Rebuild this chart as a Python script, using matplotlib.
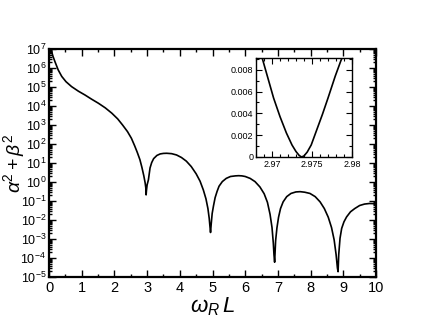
import numpy as np
import matplotlib
matplotlib.use('Agg')
import matplotlib.pyplot as plt
from matplotlib.ticker import LogLocator, MultipleLocator, NullFormatter, FixedLocator

plt.rcParams['font.family'] = ['Liberation Sans', 'DejaVu Sans']
plt.rcParams['mathtext.fontset'] = 'custom'
plt.rcParams['mathtext.rm'] = 'Liberation Sans'
plt.rcParams['mathtext.it'] = 'Liberation Sans:italic'

# main curve (omega_R L, alpha^2 + beta^2)
wL = [0.06, 0.12, 0.18, 0.28, 0.39, 0.52, 0.69, 0.9, 1.1, 1.3, 1.51, 1.72, 1.92,
      2.1, 2.25, 2.4, 2.52, 2.62, 2.7, 2.78, 2.84, 2.9, 2.94, 2.96, 2.97, 2.98,
      3.0, 3.04, 3.09, 3.14, 3.2, 3.3, 3.4, 3.5, 3.6, 3.75, 3.9, 4.05, 4.2, 4.35,
      4.5, 4.62, 4.72, 4.8, 4.86, 4.9, 4.92, 4.94, 4.96, 4.99, 5.03, 5.08, 5.14,
      5.2, 5.3, 5.42, 5.55, 5.7, 5.8, 5.9, 6.0, 6.15, 6.3, 6.45, 6.58, 6.68, 6.76,
      6.82, 6.86, 6.88, 6.9, 6.93, 6.97, 7.02, 7.08, 7.16, 7.27, 7.4, 7.55, 7.68,
      7.82, 7.98, 8.14, 8.29, 8.42, 8.54, 8.64, 8.72, 8.78, 8.82, 8.84, 8.86, 8.9,
      8.95, 9.02, 9.1, 9.22, 9.35, 9.5, 9.65, 9.8, 10.0]
amp = [1.0e7, 4.2e6, 2.2e6, 8.0e5, 3.6e5, 1.9e5, 1.05e5, 6.0e4, 3.8e4, 2.3e4,
       1.4e4, 8.0e3, 4.2e3, 2.1e3, 1.0e3, 4.5e2, 2.0e2, 8.0e1, 3.6e1, 1.5e1,
       6.0e0, 2.1e0, 9.0e-1, 5.0e-1, 2.1e-1, 3.5e-1, 7.0e-1, 1.3e0, 5.5e0,
       1.05e1, 1.7e1, 2.5e1, 3.0e1, 3.2e1, 3.25e1, 3.1e1, 2.65e1, 1.95e1, 1.25e1,
       6.5e0, 2.7e0, 1.1e0, 3.8e-1, 1.3e-1, 4.0e-2, 1.2e-2, 5.0e-3, 2.2e-3,
       6.0e-3, 2.2e-2, 5.5e-2, 1.5e-1, 3.2e-1, 6.0e-1, 1.05e0, 1.55e0, 1.95e0,
       2.1e0, 2.15e0, 2.1e0, 1.95e0, 1.55e0, 1.05e0, 5.5e-1, 2.4e-1, 8.5e-2,
       2.0e-2, 4.0e-3, 6.0e-4, 1.5e-4, 6.0e-5, 8.0e-4, 3.8e-3, 1.4e-2, 4.0e-2,
       9.0e-2, 1.7e-1, 2.5e-1, 3.0e-1, 3.1e-1, 2.9e-1, 2.5e-1, 1.7e-1, 9.0e-2,
       4.0e-2, 1.4e-2, 4.0e-3, 9.0e-4, 1.5e-4, 3.0e-5, 1.9e-5, 1.5e-4, 1.1e-3,
       3.6e-3, 8.0e-3, 1.45e-2, 2.7e-2, 4.0e-2, 5.8e-2, 6.9e-2, 7.4e-2, 7.2e-2]

# inset: zoom on the first zero
wL_in = [2.9688, 2.9695, 2.9702, 2.9710, 2.9718, 2.9725, 2.9730, 2.9734, 2.9737,
         2.9740, 2.9744, 2.9749, 2.9756, 2.9763, 2.9770, 2.9779, 2.9786, 2.9790]
amp_in = [0.0090, 0.0072, 0.0054, 0.0037, 0.0022, 0.0011, 0.00050, 0.00014, 0.0,
          0.00010, 0.00045, 0.0011, 0.0025, 0.0039, 0.0054, 0.0074, 0.0088, 0.0095]
in_ticks = [0, 0.002, 0.004, 0.006, 0.008]
in_labels = ['0', '0.002', '0.004', '0.006', '0.008']

fig = plt.figure(figsize=(4.23, 3.27), dpi=100)
W, H = 423.0, 327.0
ax = fig.add_axes([49 / W, 1 - 277 / H, (376 - 49) / W, (277 - 49) / H])

ax.semilogy(wL, amp, color='black', lw=1.2)
ax.set_xlim(0, 10)
ax.set_ylim(1e-5, 1e7)

ax.xaxis.set_major_locator(MultipleLocator(1))
ax.xaxis.set_minor_locator(MultipleLocator(0.5))
ax.yaxis.set_major_locator(LogLocator(base=10, numticks=20))
ax.yaxis.set_minor_locator(LogLocator(base=10, subs=np.arange(2, 10), numticks=20))
ax.yaxis.set_minor_formatter(NullFormatter())
ax.tick_params(which='both', direction='in', top=True, right=True, width=1.0)
ax.tick_params(which='major', length=5, pad=3)
ax.tick_params(axis='x', which='major', labelsize=10.5)
ax.tick_params(axis='y', which='major', labelsize=9, pad=2)
ax.tick_params(which='minor', length=2.5)
for s in ax.spines.values():
    s.set_linewidth(1.6)

ax.set_xlabel(r'$\omega_R\,L$', fontsize=16, labelpad=0)
ax.set_ylabel(r'$\alpha^2 + \beta^2$', fontsize=14)
ax.yaxis.set_label_coords(-0.068, 0.5)

ins = fig.add_axes([256 / W, 1 - 157 / H, (352 - 256) / W, (157 - 58) / H])
ins.plot(wL_in, amp_in, color='black', lw=1.2)
ins.set_xlim(2.968, 2.98)
ins.set_ylim(0, 0.00907)
ins.xaxis.set_major_locator(FixedLocator([2.97, 2.975, 2.98]))
ins.xaxis.set_minor_locator(MultipleLocator(0.001))
ins.yaxis.set_minor_locator(MultipleLocator(0.001))
ins.set_xticklabels(['2.97', '2.975', '2.98'])
ins.set_yticks(in_ticks)
ins.set_yticklabels(in_labels)
ins.tick_params(which='both', direction='in', top=True, right=True, width=0.8)
ins.tick_params(which='major', length=4, labelsize=6.5, pad=2)
ins.tick_params(which='minor', length=2)
for s in ins.spines.values():
    s.set_linewidth(1.0)

fig.savefig('out.png', dpi=100)
